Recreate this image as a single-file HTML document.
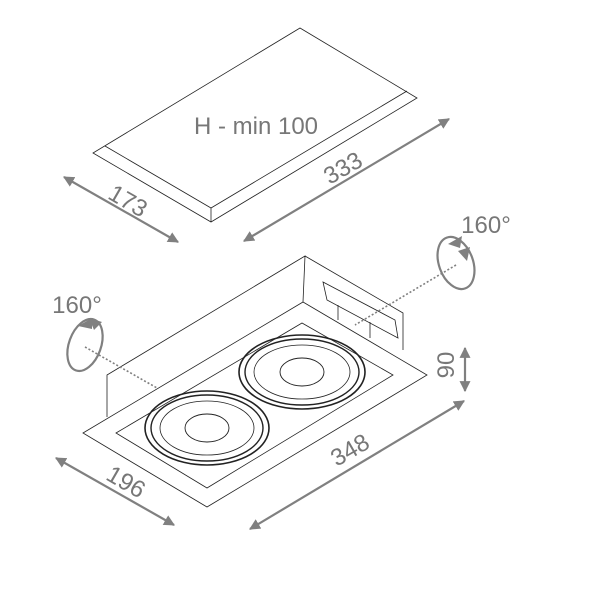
<!DOCTYPE html>
<html><head><style>html,body{margin:0;padding:0;background:#fff}svg{display:block}</style></head>
<body>
<svg width="608" height="608" viewBox="0 0 608 608" xmlns="http://www.w3.org/2000/svg" font-family="Liberation Sans, sans-serif">
<defs>
<marker id="a" viewBox="0 0 10 10" refX="9" refY="5" markerWidth="5" markerHeight="5" orient="auto-start-reverse"><path d="M0,0L10,5L0,10z" fill="#808080"/></marker>
</defs>
<g fill="none" stroke="#222" stroke-width="0.8">
<polygon points="300,28 417,98 211,222 93,153"/>
<polyline points="105,146 211,208 407,91"/>
<line x1="211" y1="208" x2="211" y2="222"/>
<polyline points="303,302 305,256 107,375 107,417"/>
<polyline points="305,256 403,313 403,350"/>
<polygon points="83,433 303,302 427,375 207,507" fill="#fff"/>
<polygon points="116,433 302,323 393,375 207,488"/>
<polygon points="323,282 395,320 398,338 327,300"/>
<line x1="338" y1="305" x2="338" y2="320"/>
<line x1="370" y1="322" x2="370" y2="338"/>
</g>
<g fill="none" stroke="#222">
<ellipse cx="302" cy="372" rx="63" ry="37" stroke-width="1.6"/>
<ellipse cx="302" cy="372" rx="57" ry="33" stroke-width="1.4"/>
<ellipse cx="302" cy="372" rx="48" ry="27" stroke-width="0.8"/>
<ellipse cx="302" cy="372" rx="22" ry="14" stroke-width="0.9"/>
<ellipse cx="207" cy="428" rx="62" ry="37" stroke-width="1.6"/>
<ellipse cx="207" cy="428" rx="56" ry="33" stroke-width="1.4"/>
<ellipse cx="207" cy="428" rx="47" ry="27" stroke-width="0.8"/>
<ellipse cx="207" cy="428" rx="22" ry="14" stroke-width="0.9"/>
</g>
<g stroke="#808080" stroke-width="2.2" fill="none">
<line x1="64" y1="177" x2="178" y2="242" marker-start="url(#a)" marker-end="url(#a)"/>
<line x1="244" y1="241" x2="449" y2="119" marker-start="url(#a)" marker-end="url(#a)"/>
<line x1="56" y1="458" x2="174" y2="525" marker-start="url(#a)" marker-end="url(#a)"/>
<line x1="250" y1="529" x2="464" y2="401" marker-start="url(#a)" marker-end="url(#a)"/>
<line x1="465" y1="348" x2="465" y2="391" marker-start="url(#a)" marker-end="url(#a)"/>
<ellipse cx="85" cy="345" rx="16" ry="27" transform="rotate(20 85 345)"/>
<ellipse cx="456" cy="263" rx="17" ry="27" transform="rotate(-20 456 263)"/>
<line x1="85" y1="347" x2="157" y2="388" stroke-dasharray="2,2" stroke-width="1.6"/>
<line x1="456" y1="265" x2="355" y2="325" stroke-dasharray="2,2" stroke-width="1.6"/>
</g>
<g fill="#808080">
<path d="M78,326l14,-8l0,11z"/><path d="M102,322l-13,-4l5,12z"/>
<path d="M448,244l14,-8l-2,12z"/><path d="M470,247l-12,4l9,10z"/>
</g>
<g fill="#777" font-size="24">
<text x="256" y="134" text-anchor="middle">H - min 100</text>
<text x="128" y="209" text-anchor="middle" transform="rotate(30 128 201)">173</text>
<text x="343" y="176" text-anchor="middle" transform="rotate(-30 343 168)">333</text>
<text x="126" y="490" text-anchor="middle" transform="rotate(30 126 482)">196</text>
<text x="350" y="458" text-anchor="middle" transform="rotate(-30 350 450)">348</text>
<text x="446" y="373" text-anchor="middle" transform="rotate(-90 446 365)">90</text>
<text x="77" y="313" text-anchor="middle">160°</text>
<text x="486" y="233" text-anchor="middle">160°</text>
</g>
</svg>
</body></html>
